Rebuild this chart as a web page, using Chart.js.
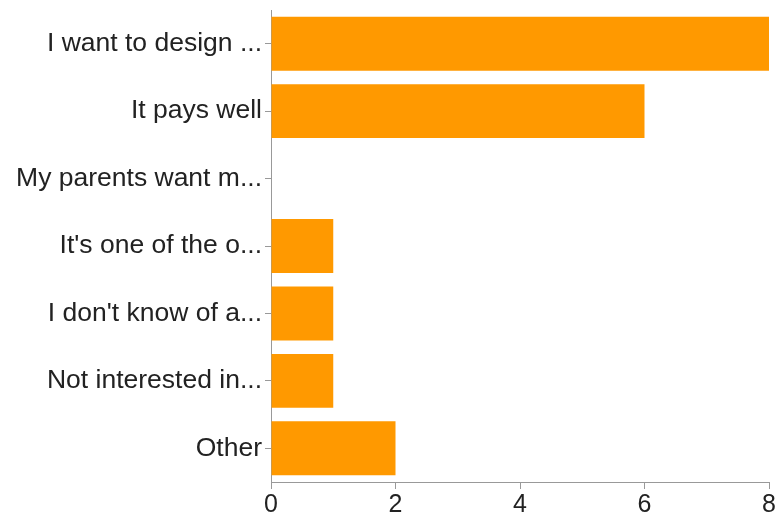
<!DOCTYPE html>
<html>
<head>
<meta charset="utf-8">
<script src="https://cdn.jsdelivr.net/npm/chart.js@4/dist/chart.umd.min.js"></script>
<style>
html,body{margin:0;padding:0;background:#fff;}
#wrap{width:777px;height:519px;position:relative;}
</style>
</head>
<body>
<div id="wrap"><canvas id="c" width="777" height="519"></canvas></div>
<script>
const categories = ["I want to design ...", "It pays well", "My parents want m...", "It's one of the o...", "I don't know of a...", "Not interested in...", "Other"];
const values = [8, 6, 0, 1, 1, 1, 2];
const xTicks = [0, 2, 4, 6, 8];

new Chart(document.getElementById('c'), {
  type: 'bar',
  data: {
    labels: categories,
    datasets: [{
      data: values,
      backgroundColor: '#FF9900',
      borderWidth: 0,
      categoryPercentage: 0.8,
      barPercentage: 1.0
    }]
  },
  options: {
    indexAxis: 'y',
    responsive: false,
    animation: false,
    layout: {padding: {left: 0, right: 8, top: 10, bottom: 0}},
    plugins: {legend: {display: false}, tooltip: {enabled: false}},
    scales: {
      x: {
        min: 0, max: 8,
        afterBuildTicks: (s) => { s.ticks = xTicks.map(v => ({value: v})); },
        afterFit: (s) => { s.height = 37; },
        grid: {drawOnChartArea: false, drawTicks: true, tickLength: 7, color: '#999'},
        border: {display: true, color: '#999', width: 1},
        ticks: {color: '#222', font: {family: 'Liberation Sans, Arial, sans-serif', size: 25, lineHeight: 1.2}, padding: 1, maxRotation: 0}
      },
      y: {
        afterFit: (s) => { s.width = 271; },
        grid: {drawOnChartArea: false, drawTicks: true, tickLength: 6, color: '#999', offset: false},
        border: {display: true, color: '#999', width: 1},
        ticks: {color: '#222', font: {family: 'Liberation Sans, Arial, sans-serif', size: 26.5, lineHeight: 0.5}, padding: 3}
      }
    }
  }
});
</script>
</body>
</html>
